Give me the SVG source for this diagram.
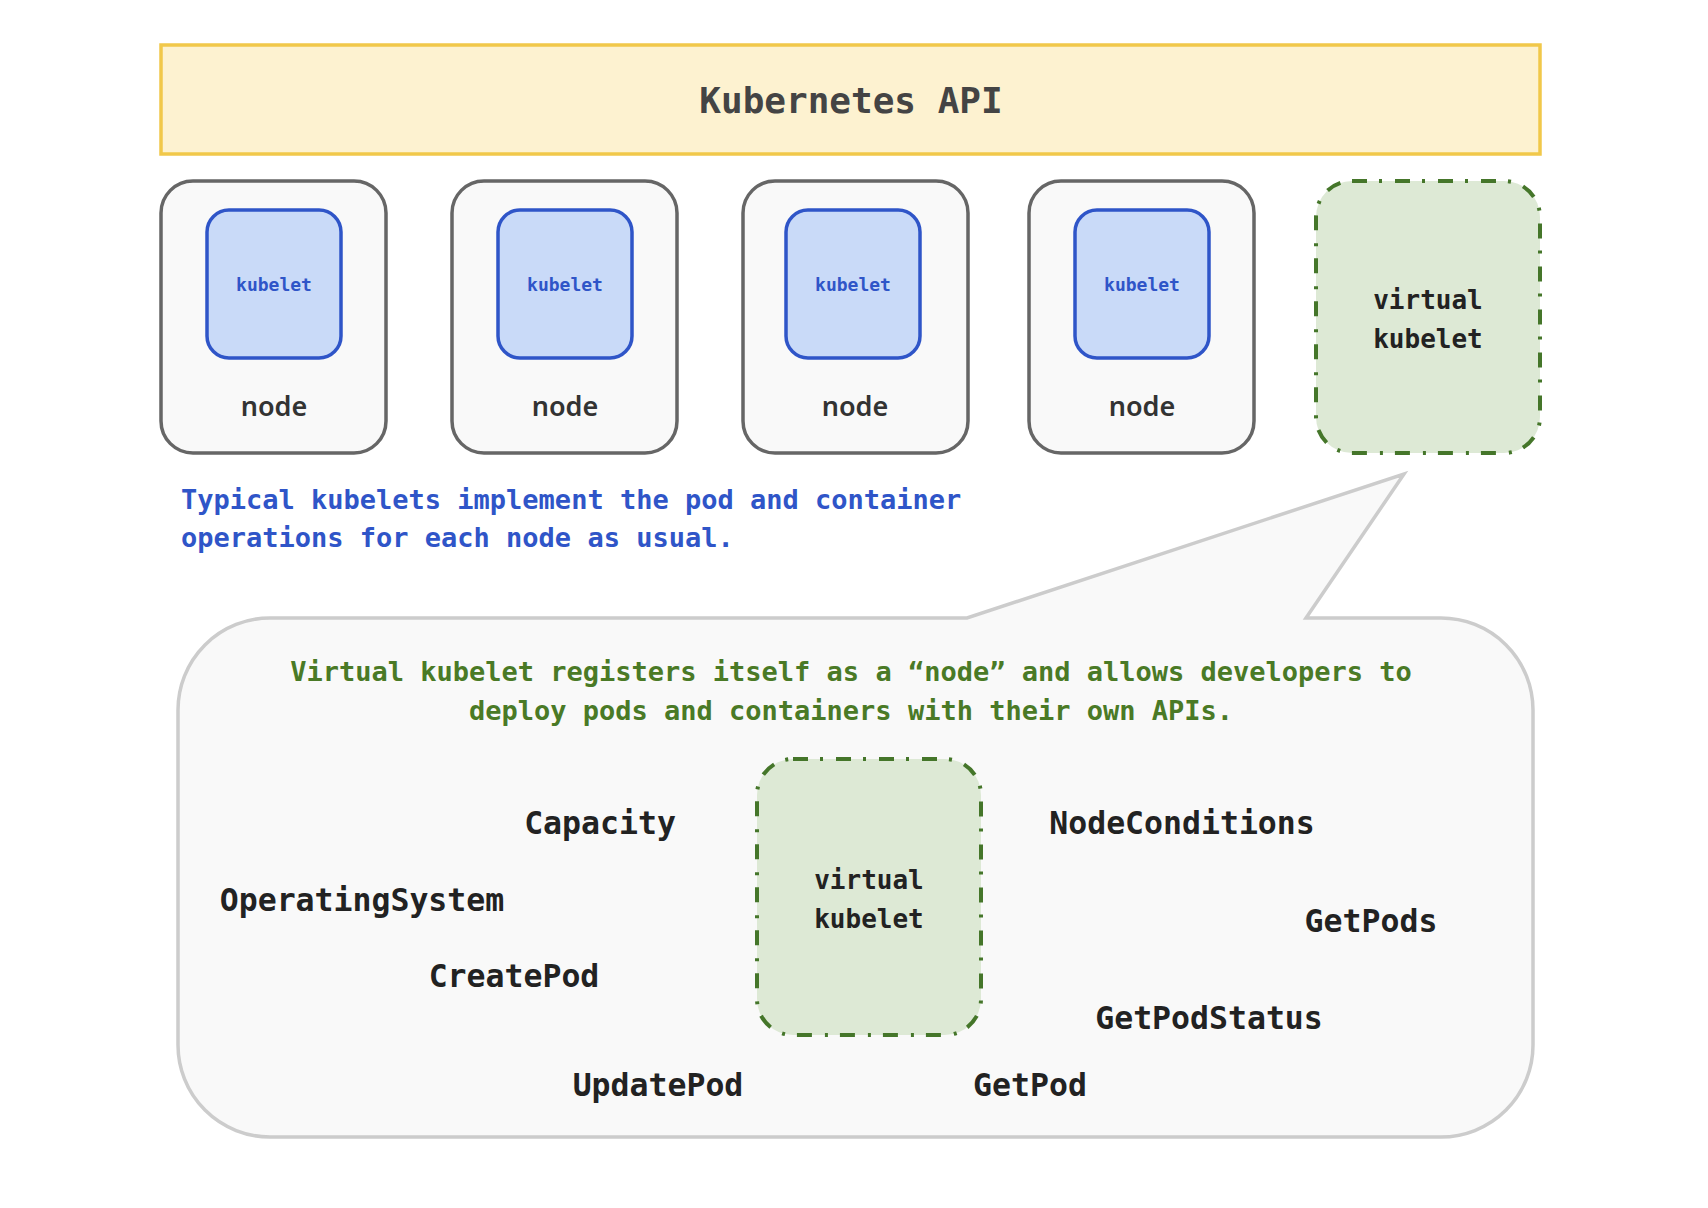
<svg xmlns="http://www.w3.org/2000/svg" width="1708" height="1208" viewBox="0 0 1708 1208">
<style>
.mono{font-family:"DejaVu Sans Mono","Liberation Mono",monospace}
.node-box{fill:#f9f9f9;stroke:#666;stroke-width:3.5}
.kubelet-box{fill:#c9daf8;stroke:#2f55c8;stroke-width:3.5}
.kubelet-txt{font-family:"DejaVu Sans Mono",monospace;font-size:18px;font-weight:bold;fill:#2f55c8;text-anchor:middle}
.node-txt{font-family:"Noto Sans","Open Sans",sans-serif;font-size:27px;font-weight:600;fill:#333;text-anchor:middle}
.vk-box{fill:#dde9d5;stroke:#45762a;stroke-width:4;stroke-dasharray:15 12 3 13}
.vk-txt{font-family:"DejaVu Sans Mono",monospace;font-size:26px;font-weight:bold;fill:#222;text-anchor:middle}
.op{font-family:"DejaVu Sans Mono",monospace;font-size:31.5px;font-weight:bold;fill:#222;text-anchor:middle}
.blue{font-family:"DejaVu Sans Mono",monospace;font-size:27px;font-weight:bold;fill:#2f55c8}
.green{font-family:"DejaVu Sans Mono",monospace;font-size:27px;font-weight:bold;fill:#4a7a26;text-anchor:middle}
</style>
<rect width="1708" height="1208" fill="#ffffff"/>
<g id="api">
<rect x="161" y="45" width="1379" height="109" fill="#fdf2d0" stroke="#f1c84a" stroke-width="3.5"/>
<text x="851" y="113" class="mono" font-size="36" font-weight="bold" fill="#444" text-anchor="middle">Kubernetes API</text>
</g>
<g id="node1">
<rect class="node-box" x="161" y="181" width="225" height="272" rx="32"/>
<rect class="kubelet-box" x="207" y="210" width="134" height="148" rx="22"/>
<text class="kubelet-txt" x="274" y="291">kubelet</text>
<text class="node-txt" x="274" y="416">node</text>
</g>
<g id="node2">
<rect class="node-box" x="452" y="181" width="225" height="272" rx="32"/>
<rect class="kubelet-box" x="498" y="210" width="134" height="148" rx="22"/>
<text class="kubelet-txt" x="565" y="291">kubelet</text>
<text class="node-txt" x="565" y="416">node</text>
</g>
<g id="node3">
<rect class="node-box" x="743" y="181" width="225" height="272" rx="32"/>
<rect class="kubelet-box" x="786" y="210" width="134" height="148" rx="22"/>
<text class="kubelet-txt" x="853" y="291">kubelet</text>
<text class="node-txt" x="855" y="416">node</text>
</g>
<g id="node4">
<rect class="node-box" x="1029" y="181" width="225" height="272" rx="32"/>
<rect class="kubelet-box" x="1075" y="210" width="134" height="148" rx="22"/>
<text class="kubelet-txt" x="1142" y="291">kubelet</text>
<text class="node-txt" x="1142" y="416">node</text>
</g>
<g id="virtual-kubelet">
<rect class="vk-box" x="1316" y="181" width="224" height="272" rx="36"/>
<text class="vk-txt" x="1428" y="309">virtual</text>
<text class="vk-txt" x="1428" y="348">kubelet</text>
</g>
<g id="typical-note">
<text class="blue" x="181" y="509">Typical kubelets implement the pod and container</text>
<text class="blue" x="181" y="547">operations for each node as usual.</text>
</g>
<g id="callout">
<path d="M270,618 L967,618 L1404,474 L1306,618 L1441,618 A92,92 0 0 1 1533,710 L1533,1045 A92,92 0 0 1 1441,1137 L270,1137 A92,92 0 0 1 178,1045 L178,710 A92,92 0 0 1 270,618 Z" fill="#f9f9f9" stroke="#cccccc" stroke-width="3.5" stroke-linejoin="miter"/>
<text class="green" x="851" y="681">Virtual kubelet registers itself as a “node” and allows developers to</text>
<text class="green" x="851" y="720">deploy pods and containers with their own APIs.</text>
</g>
<g id="virtual-kubelet-detail">
<rect class="vk-box" x="757" y="759" width="224" height="276" rx="36"/>
<text class="vk-txt" x="869" y="889">virtual</text>
<text class="vk-txt" x="869" y="928">kubelet</text>
</g>
<g id="operations">
<text class="op" x="600" y="834">Capacity</text>
<text class="op" x="362" y="911">OperatingSystem</text>
<text class="op" x="514" y="987">CreatePod</text>
<text class="op" x="658" y="1096">UpdatePod</text>
<text class="op" x="1182" y="834">NodeConditions</text>
<text class="op" x="1371" y="932">GetPods</text>
<text class="op" x="1209" y="1029">GetPodStatus</text>
<text class="op" x="1030" y="1096">GetPod</text>
</g>
<g id="connectors"></g>
</svg>
